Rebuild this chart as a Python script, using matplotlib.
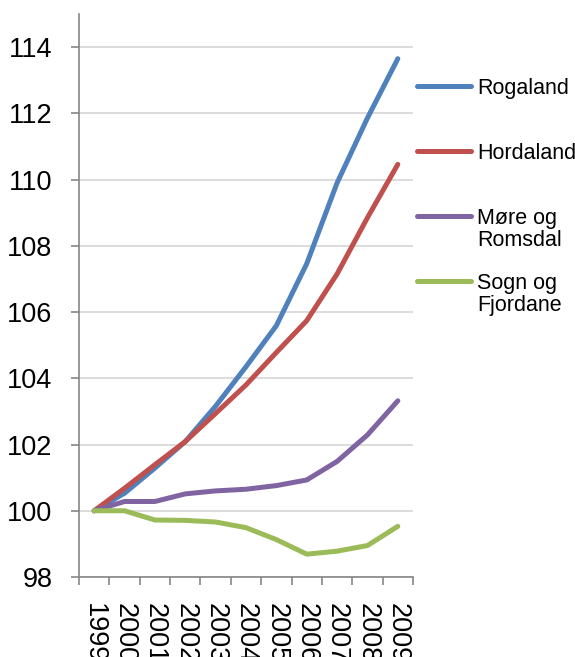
import matplotlib
import numpy as np

matplotlib.use("Agg")
import matplotlib.pyplot as plt

years = ["1999", "2000", "2001", "2002", "2003", "2004",
         "2005", "2006", "2007", "2008", "2009"]
rogaland = [100.0, 100.53, 101.29, 102.09, 103.16, 104.35,
            105.59, 107.46, 109.9, 111.86, 113.65]
hordaland = [100.0, 100.68, 101.39, 102.09, 102.94, 103.8,
             104.78, 105.74, 107.15, 108.85, 110.46]
more_romsdal = [100.0, 100.28, 100.28, 100.51, 100.6, 100.65,
                100.76, 100.93, 101.49, 102.29, 103.32]
sogn_fjordane = [100.0, 100.0, 99.72, 99.71, 99.66, 99.49,
                 99.13, 98.69, 98.78, 98.95, 99.53]

# first line of each legend label, second line (if any)
series = [
    ("Rogaland", "", rogaland, "#4F81BD"),
    ("Hordaland", "", hordaland, "#C0504D"),
    ("Møre og", "Romsdal", more_romsdal, "#8064A2"),
    ("Sogn og", "Fjordane", sogn_fjordane, "#9BBB59"),
]

plt.rcParams["font.family"] = ["Liberation Sans", "DejaVu Sans"]

fig = plt.figure(figsize=(5.75, 6.57), dpi=100)
ax = fig.add_axes([79 / 575, 1 - 577 / 657, 334 / 575, 563 / 657])

x = np.arange(len(years))
for label, _, values, color in series:
    ax.plot(x, values, color=color, linewidth=3.6, label=label,
            solid_capstyle="round", solid_joinstyle="round")

ax.set_xlim(-0.5, len(years) - 0.5)
ax.set_ylim(98, 115)
ax.set_yticks(np.arange(98, 115, 2))
ax.set_xticks(x)
ax.set_xticklabels(years, rotation=270, fontsize=19.5)
ax.set_xticks(np.arange(-0.5, len(years), 1), minor=True)
ax.tick_params(axis="x", which="major", length=0, pad=19)
ax.tick_params(axis="x", which="minor", length=6, color="#868686", width=1.2)
ax.tick_params(axis="y", length=6, color="#868686", width=1.2, pad=13,
               labelsize=19.5)

ax.grid(axis="y", color="#D9D9D9", linewidth=1.3)
ax.set_axisbelow(True)
for side in ["top", "right"]:
    ax.spines[side].set_visible(False)
for side in ["left", "bottom"]:
    ax.spines[side].set_color("#868686")
    ax.spines[side].set_linewidth(1.2)

leg = ax.legend(loc="upper left", bbox_to_anchor=(417 / 575, 1 - 78 / 657),
                bbox_transform=fig.transFigure, frameon=False, fontsize=15.5,
                handlelength=2.5, handletextpad=0.28, labelspacing=2.04,
                borderpad=0, borderaxespad=0)

# second lines of the two-line labels, hung under the first line
# (zorder above the legend so they are placed after it is laid out)
for txt, (_, second, _, _) in zip(leg.get_texts(), series):
    if second:
        ax.annotate(second, xy=(0, 0), xycoords=txt, xytext=(0, -22),
                    textcoords="offset pixels", ha="left", va="bottom",
                    fontsize=15.5, annotation_clip=False, zorder=6)

fig.savefig("out.png", dpi=100)
plt.close(fig)
